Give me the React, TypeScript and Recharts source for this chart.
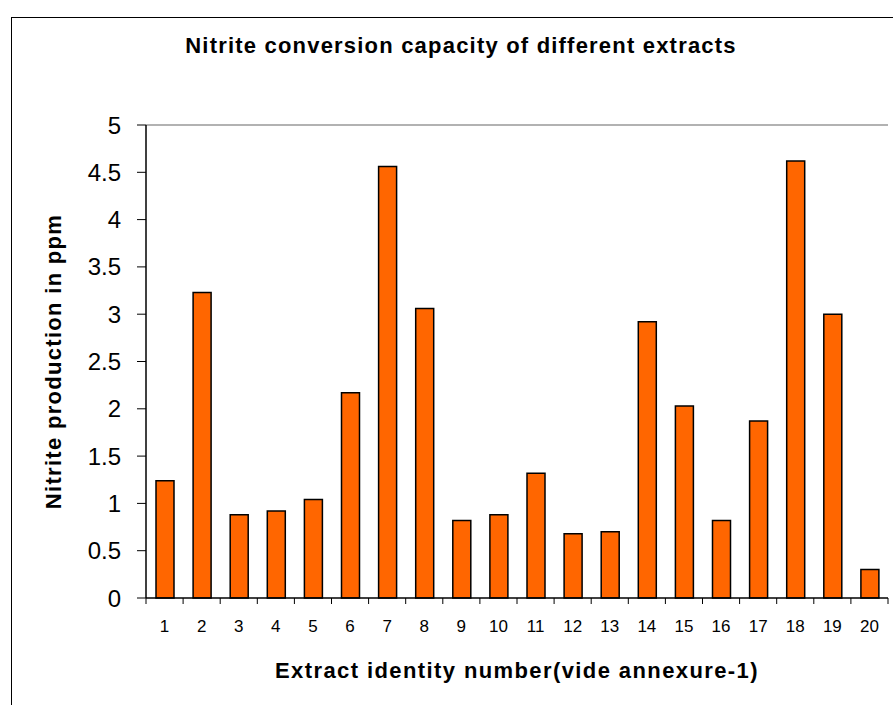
import { Bar, BarChart, Label, ReferenceLine, XAxis, YAxis } from 'recharts'

const extractIds = ['1', '2', '3', '4', '5', '6', '7', '8', '9', '10', '11', '12', '13', '14', '15', '16', '17', '18', '19', '20']
const nitritePpm = [1.24, 3.23, 0.88, 0.92, 1.04, 2.17, 4.56, 3.06, 0.82, 0.88, 1.32, 0.68, 0.7, 2.92, 2.03, 0.82, 1.87, 4.62, 3.0, 0.3]
const yTicks = [0, 0.5, 1, 1.5, 2, 2.5, 3, 3.5, 4, 4.5, 5]

const data = extractIds.map((id, i) => ({ id, ppm: nitritePpm[i] }))

const W = 893
const H = 705
const M = { top: 125, right: 5, bottom: 0, left: 0 }
const Y_AXIS_W = 146
const X_AXIS_H = 107
const font = '"Liberation Sans", Arial, sans-serif'
const halfBand = (W - M.left - M.right - Y_AXIS_W) / extractIds.length / 2

function XTick(props: any) {
  const { x, y, payload, index } = props
  const last = index === extractIds.length - 1
  return (
    <g>
      <line x1={x - halfBand} x2={x - halfBand} y1={y - 8} y2={y - 2} stroke="#000" />
      {last && <line x1={x + halfBand} x2={x + halfBand} y1={y - 8} y2={y - 2} stroke="#000" />}
      <text x={x} y={y + 26} textAnchor="middle" fontSize={17} fontFamily={font} fill="#000">
        {payload.value}
      </text>
    </g>
  )
}

export default function App() {
  return (
    <div style={{ position: 'absolute', left: 0, top: 0, width: W, height: H, background: '#fff' }}>
      <div
        style={{
          position: 'absolute',
          left: 11,
          top: 17,
          right: 0,
          bottom: 0,
          borderLeft: '1px solid #000',
          borderTop: '1px solid #000',
        }}
      />
      <div
        style={{
          position: 'absolute',
          left: 0,
          width: 922,
          top: 33,
          textAlign: 'center',
          fontFamily: font,
          fontWeight: 'bold',
          fontSize: 22,
          letterSpacing: 1.2,
        }}
      >
        Nitrite conversion capacity of different extracts
      </div>
      <div style={{ position: 'absolute', left: 0, top: 0 }}>
        <BarChart width={W} height={H} data={data} margin={M} barSize={18}>
          <XAxis
            dataKey="id"
            height={X_AXIS_H}
            axisLine={{ stroke: '#000', strokeWidth: 1.5 }}
            tickLine={false}
            tick={<XTick />}
            interval={0}
          >
            <Label
              value="Extract identity number(vide annexure-1)"
              position="insideTop"
              offset={64}
              style={{ fontFamily: font, fontWeight: 'bold', fontSize: 22, letterSpacing: 1.4, fill: '#000' }}
            />
          </XAxis>
          <YAxis
            width={Y_AXIS_W}
            domain={[0, 5]}
            ticks={yTicks}
            interval={0}
            axisLine={{ stroke: '#000', strokeWidth: 1.5 }}
            tickLine={{ stroke: '#000' }}
            tickSize={9}
            tickMargin={16}
            tick={{ fontSize: 24, fontFamily: font, fill: '#000' }}
          >
            <Label
              value="Nitrite production in ppm"
              angle={-90}
              position="insideLeft"
              offset={53}
              style={{ textAnchor: 'middle', fontFamily: font, fontWeight: 'bold', fontSize: 22, letterSpacing: 1.3, fill: '#000' }}
            />
          </YAxis>
          <YAxis
            yAxisId="frame"
            orientation="right"
            width={0}
            domain={[0, 5]}
            tick={false}
            tickLine={false}
            axisLine={{ stroke: '#999', strokeWidth: 1.5 }}
          />
          <ReferenceLine y={5} stroke="#999" strokeWidth={1.5} />
          <Bar dataKey="ppm" fill="#ff6600" stroke="#000" strokeWidth={1.5} isAnimationActive={false} />
        </BarChart>
      </div>
    </div>
  )
}
